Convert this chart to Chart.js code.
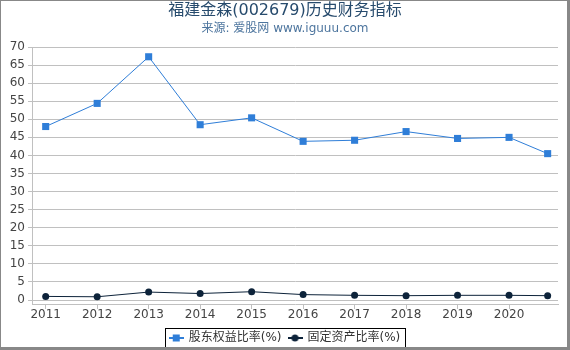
<!DOCTYPE html>
<html>
<head>
<meta charset="utf-8">
<script src="https://cdn.jsdelivr.net/npm/chart.js@4/dist/chart.umd.min.js"></script>
<style>
html,body{margin:0;padding:0;background:#fff;}
#wrap{width:570px;height:350px;position:relative;}
canvas{display:block;}
</style>
</head>
<body>
<div id="wrap"><canvas id="c" width="570" height="350"></canvas></div>
<script>
// ---- data ----
const titleText = '福建金森(002679)历史财务指标';
const subtitleText = '来源: 爱股网 www.iguuu.com';
const seriesNames = ['股东权益比率(%)', '固定资产比率(%)'];
const periods = [2011, 2012, 2013, 2014, 2015, 2016, 2017, 2018, 2019, 2020, 2020.75];
const yearTicks = [2011, 2012, 2013, 2014, 2015, 2016, 2017, 2018, 2019, 2020];
const equityRatio = [48.0, 54.4, 67.3, 48.5, 50.4, 43.9, 44.2, 46.6, 44.7, 45.0, 40.5];
const fixedAssetRatio = [1.0, 0.9, 2.2, 1.8, 2.3, 1.5, 1.3, 1.2, 1.3, 1.3, 1.2];
const yTicks = [0, 5, 10, 15, 20, 25, 30, 35, 40, 45, 50, 55, 60, 65, 70];

// ---- styles ----
const FONT = "'DejaVu Sans', 'Noto Sans CJK SC', sans-serif";
const BLUE = '#2f7ed8';
const NAVY = '#0d233a';
const GRID = '#c0c0c0';

function makeIcon(color, shape) {
  const c = document.createElement('canvas');
  c.width = 15; c.height = 10;
  const g = c.getContext('2d');
  g.strokeStyle = color; g.lineWidth = 2;
  g.beginPath(); g.moveTo(0, 5); g.lineTo(15, 5); g.stroke();
  g.fillStyle = color;
  if (shape === 'rect') { g.fillRect(4, 1.5, 7, 7); }
  else { g.beginPath(); g.arc(7.5, 5, 3.5, 0, Math.PI * 2); g.fill(); }
  return c;
}
const legendIcons = [makeIcon(BLUE, 'rect'), makeIcon(NAVY, 'circle')];

const frame = {
  id: 'frame',
  beforeDraw(chart) {
    const ctx = chart.ctx;
    ctx.save();
    ctx.fillStyle = '#fff';
    ctx.fillRect(0, 0, chart.width, chart.height);
    ctx.restore();
  },
  afterDraw(chart) {
    const ctx = chart.ctx;
    const lg = chart.legend;
    ctx.save();
    if (lg && lg.legendHitBoxes && lg.legendHitBoxes.length) {
      const hb = lg.legendHitBoxes;
      const l = Math.min(...hb.map(h => h.left)) - 5;
      const r = Math.max(...hb.map(h => h.left + h.width)) + 4;
      const t = Math.min(...hb.map(h => h.top)) - 4;
      const b = Math.max(...hb.map(h => h.top + h.height)) + 5;
      ctx.strokeStyle = '#000';
      ctx.lineWidth = 1;
      ctx.strokeRect(Math.round(l) + 0.5, Math.round(t) + 0.5, Math.round(r - l), Math.round(b - t));
    }
    ctx.fillStyle = '#888';
    ctx.fillRect(0, 0, chart.width, 1);
    ctx.fillRect(0, 0, 1, chart.height);
    ctx.fillRect(chart.width - 3, 0, 3, chart.height);
    ctx.fillRect(0, chart.height - 3, chart.width, 3);
    ctx.restore();
  }
};

new Chart(document.getElementById('c'), {
  type: 'line',
  data: {
    datasets: [
      {
        label: seriesNames[0],
        data: periods.map((p, i) => ({ x: p, y: equityRatio[i] })),
        borderColor: BLUE, backgroundColor: BLUE,
        borderWidth: 1, pointStyle: 'rect', pointRadius: 5,
        pointBorderWidth: 0, tension: 0
      },
      {
        label: seriesNames[1],
        data: periods.map((p, i) => ({ x: p, y: fixedAssetRatio[i] })),
        borderColor: NAVY, backgroundColor: NAVY,
        borderWidth: 1, pointStyle: 'circle', pointRadius: 3.5,
        pointBorderWidth: 0, tension: 0
      }
    ]
  },
  options: {
    responsive: false,
    animation: false,
    devicePixelRatio: 1,
    layout: { padding: { left: 0, right: 0, top: 0, bottom: -4 } },
    scales: {
      x: {
        type: 'linear',
        min: 2010.734, max: 2020.951,
        afterBuildTicks: s => { s.ticks = yearTicks.map(v => ({ value: v })); },
        afterFit: s => { s.height = 21; },
        ticks: {
          autoSkip: false, maxRotation: 0, padding: -1,
          color: '#444', font: { family: FONT, size: 12 },
          callback: v => String(v)
        },
        grid: { drawOnChartArea: false, drawTicks: true, tickLength: 5, color: GRID },
        border: { color: GRID }
      },
      y: {
        min: -1.1, max: 70,
        afterBuildTicks: s => { s.ticks = yTicks.map(v => ({ value: v })); },
        afterFit: s => { s.width = 32; },
        ticks: { padding: 3, color: '#444', font: { family: FONT, size: 12 } },
        grid: { color: GRID, tickLength: 4, tickColor: GRID },
        border: { color: GRID }
      },
      spacer: {
        type: 'linear', position: 'right', display: true,
        ticks: { display: false },
        grid: { display: false, drawTicks: false },
        border: { display: false },
        afterFit: s => { s.width = 12; }
      }
    },
    plugins: {
      title: {
        display: true, text: titleText, color: '#274b6d',
        font: { family: FONT, size: 16, weight: 'normal' },
        padding: { top: 1, bottom: 0 }
      },
      subtitle: {
        display: true, text: subtitleText, color: '#4d759e',
        font: { family: FONT, size: 12, weight: 'normal' },
        padding: { top: 1, bottom: 11.4 }
      },
      legend: {
        position: 'bottom',
        labels: {
          usePointStyle: true, pointStyleWidth: 13, padding: 7,
          color: '#333', font: { family: FONT, size: 12 },
          generateLabels: chart => {
            const items = Chart.defaults.plugins.legend.labels.generateLabels(chart);
            items.forEach((it, i) => { it.pointStyle = legendIcons[i]; });
            return items;
          }
        }
      },
      tooltip: { enabled: false }
    }
  },
  plugins: [frame]
});
</script>
</body>
</html>
